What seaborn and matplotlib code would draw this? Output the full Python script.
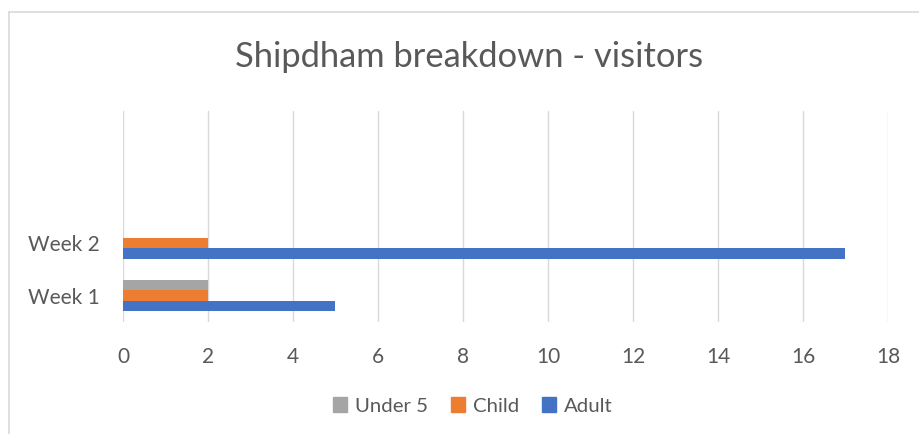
import matplotlib
matplotlib.use("Agg")
import matplotlib.pyplot as plt
from matplotlib.lines import Line2D
import seaborn as sns
import pandas as pd

weeks = ["Week 1", "Week 2"]
series = ["Under 5", "Child", "Adult"]
under5 = [2, 0]
child = [2, 2]
adult = [5, 17]
colors = ["#A5A5A5", "#ED7D31", "#4472C4"]
xticks = [0, 2, 4, 6, 8, 10, 12, 14, 16, 18]

rows = []
for i, w in enumerate(weeks):
    rows.append({"week": w, "series": "Under 5", "value": under5[i]})
    rows.append({"week": w, "series": "Child", "value": child[i]})
    rows.append({"week": w, "series": "Adult", "value": adult[i]})
df = pd.DataFrame(rows)

sns.set_theme(style="white")
plt.rcParams["font.family"] = ["Lato", "DejaVu Sans"]
text_color = "#595959"

W, H = 920, 434
fig = plt.figure(figsize=(W / 100, H / 100), dpi=100)
ax = fig.add_axes([123 / W, 1 - 322 / H, (888 - 123) / W, (322 - 111) / H])

sns.barplot(data=df, y="week", x="value", hue="series", order=["Week 2", "Week 1"],
            hue_order=series, palette=colors, orient="h", width=0.6, ax=ax,
            linewidth=0, saturation=1, legend=False)

ax.set_xlim(0, 18)
ax.set_ylim(1.5, -2.5)
ax.set_xticks(xticks)
ax.set_xticklabels([str(t) for t in xticks], fontsize=15, color=text_color)
ax.tick_params(axis="x", length=0, pad=18)
ax.tick_params(axis="y", length=0, pad=16.5, labelsize=15, labelcolor=text_color)
ax.set_xlabel("")
ax.set_ylabel("")
ax.grid(axis="x", color="#D9D9D9", linewidth=1)
ax.set_axisbelow(True)
for s in ax.spines.values():
    s.set_visible(False)

fig.text(469.5 / W, 1 - 57 / H, "Shipdham breakdown - visitors", ha="center", va="center",
         fontsize=24.8, color=text_color)

handles = [plt.Rectangle((0, 0), 1, 1, color=c) for c in colors]
fig.legend(handles, series, loc="center", bbox_to_anchor=(473 / W, 1 - 406 / H), ncol=3,
           frameon=False, fontsize=14.7, labelcolor=text_color, handlelength=0.7,
           handleheight=0.7, handletextpad=0.4, columnspacing=1.1)

fig.add_artist(Line2D([8.5 / W, 8.5 / W], [0, 1 - 11.5 / H], color="#D9D9D9", linewidth=1.2,
                      transform=fig.transFigure))
fig.add_artist(Line2D([8.5 / W, 1], [1 - 11.5 / H, 1 - 11.5 / H], color="#D9D9D9", linewidth=1.2,
                      transform=fig.transFigure))

fig.savefig("out.png", dpi=100)
